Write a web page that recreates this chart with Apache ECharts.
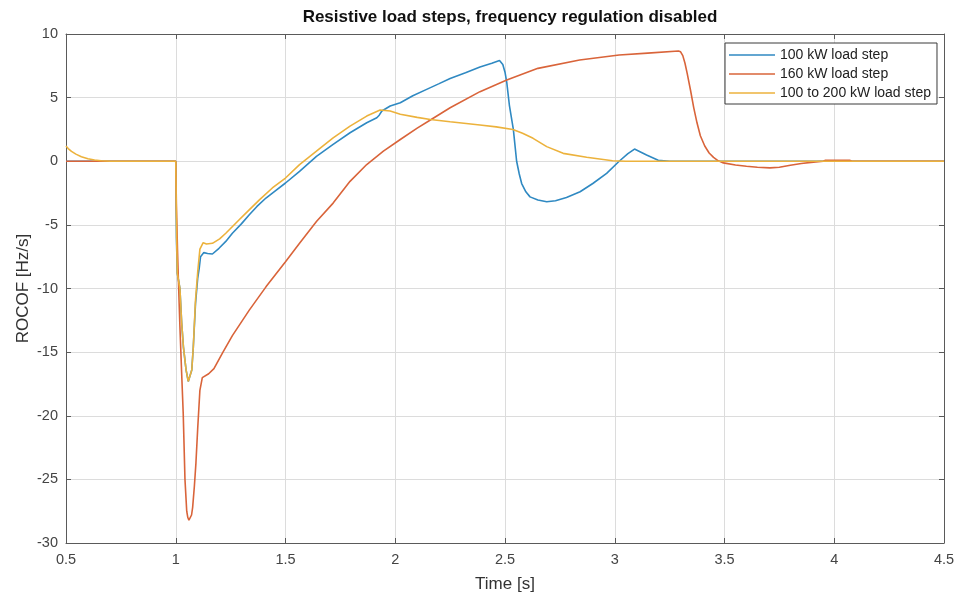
<!DOCTYPE html>
<html>
<head>
<meta charset="utf-8">
<title>ROCOF – resistive load steps</title>
<script src="https://cdn.jsdelivr.net/npm/echarts@6/dist/echarts.min.js"></script>
<style>
  html, body { margin: 0; padding: 0; background: #fff; }
  #chart { width: 965px; height: 596px; }
</style>
</head>
<body>
<div id="chart"></div>
<script>
// Axis ranges and ticks
const timeTicks = [0.5, 1, 1.5, 2, 2.5, 3, 3.5, 4, 4.5];
const rocofTicks = [-30, -25, -20, -15, -10, -5, 0, 5, 10];

const seriesNames = ['100 kW load step', '160 kW load step', '100 to 200 kW load step'];

// 100 kW load step
const time100 = [0.5, 1.0, 1.003, 1.007, 1.019, 1.027, 1.035, 1.047, 1.057, 1.063, 1.073, 1.08, 1.09, 1.1, 1.107, 1.113,
  1.128, 1.145, 1.167, 1.197, 1.228, 1.258, 1.3, 1.335, 1.37, 1.411, 1.455, 1.5, 1.564, 1.641, 1.717, 1.794, 1.87,
  1.916, 1.927, 1.939, 1.977, 2.023, 2.08, 2.143, 2.2, 2.25, 2.32, 2.386, 2.44, 2.475, 2.483, 2.49, 2.5, 2.508,
  2.52, 2.538, 2.553, 2.565, 2.576, 2.595, 2.614, 2.65, 2.69, 2.73, 2.78, 2.842, 2.9, 2.963, 3.02, 3.06, 3.09,
  3.115, 3.145, 3.198, 3.25, 4.5];
const rocof100 = [0, 0, -6, -8.8, -10, -12.7, -14.6, -16.4, -17.3, -17.4, -16.4, -14.6, -11.2, -9.2, -8.4, -7.5,
  -7.18, -7.25, -7.29, -6.84, -6.3, -5.66, -4.9, -4.21, -3.55, -2.89, -2.3, -1.71, -0.79, 0.39, 1.32, 2.24, 3.03,
  3.42, 3.62, 3.95, 4.34, 4.6, 5.15, 5.65, 6.1, 6.5, 6.95, 7.4, 7.7, 7.92, 7.95, 7.6, 7.0, 6.2,
  4.4, 2.5, 0.0, -1.0, -1.75, -2.4, -2.8, -3.05, -3.18, -3.1, -2.85, -2.4, -1.75, -0.95, 0.0, 0.6, 0.96,
  0.75, 0.49, 0.08, 0, 0];

// 160 kW load step
const time160 = [0.5, 1.0, 1.003, 1.008, 1.012, 1.019, 1.027, 1.034, 1.042, 1.05, 1.055, 1.06, 1.066, 1.072, 1.077,
  1.085, 1.092, 1.1, 1.11, 1.121, 1.15, 1.174, 1.212, 1.258, 1.335, 1.411, 1.5, 1.564, 1.641, 1.717, 1.794, 1.87,
  1.946, 2.023, 2.1, 2.16, 2.25, 2.386, 2.508, 2.65, 2.84, 3.02, 3.15, 3.29, 3.3, 3.31, 3.32, 3.33, 3.345,
  3.36, 3.375, 3.39, 3.41, 3.43, 3.45, 3.47, 3.495, 3.55, 3.6, 3.65, 3.707, 3.75, 3.8, 3.85, 3.905, 3.95, 3.96,
  4.07, 4.08, 4.5];
const rocof160 = [0, 0, -3.5, -7, -9.3, -13, -16.7, -19.8, -25, -27.5, -28.0, -28.2, -28.1, -27.8, -27.2,
  -25.5, -23.7, -21, -18, -17, -16.7, -16.3, -15.1, -13.7, -11.7, -9.87, -7.9, -6.45, -4.74, -3.29, -1.58, -0.26,
  0.79, 1.71, 2.6, 3.24, 4.2, 5.47, 6.38, 7.3, 7.96, 8.35, 8.5, 8.66, 8.6, 8.3, 7.7, 6.9, 5.6,
  4.2, 3.0, 2.0, 1.2, 0.65, 0.3, 0.05, -0.13, -0.3, -0.39, -0.47, -0.52, -0.47, -0.31, -0.18, -0.07, 0, 0.08,
  0.08, 0, 0];

// 100 to 200 kW load step
const time100to200 = [0.5, 0.51, 0.525, 0.545, 0.57, 0.6, 0.63, 0.66, 0.7, 1.0, 1.004, 1.007, 1.019, 1.027, 1.035,
  1.047, 1.057, 1.063, 1.073, 1.08, 1.09, 1.1, 1.11, 1.125, 1.14, 1.167, 1.2, 1.228, 1.289, 1.33, 1.381, 1.44,
  1.5, 1.564, 1.641, 1.717, 1.794, 1.87, 1.931, 1.977, 2.023, 2.1, 2.16, 2.25, 2.386, 2.46, 2.536, 2.58, 2.628,
  2.69, 2.765, 2.872, 2.99, 3.05, 4.5];
const rocof100to200 = [1.2, 1.0, 0.78, 0.56, 0.36, 0.2, 0.1, 0.04, 0, 0, -6, -8.8, -10, -12.7, -14.6,
  -16.4, -17.3, -17.4, -16.4, -14.6, -10.9, -8.7, -6.9, -6.4, -6.5, -6.45, -6.1, -5.66, -4.6, -3.9, -3.03, -2.1,
  -1.32, -0.26, 0.79, 1.84, 2.76, 3.55, 4.03, 3.95, 3.7, 3.45, 3.28, 3.1, 2.85, 2.7, 2.5, 2.2, 1.8,
  1.15, 0.62, 0.31, 0.04, 0, 0];

const colors = ['#2f89c2', '#d9643a', '#ecb23c'];

function pairs(ts, vs) { return ts.map((t, i) => [t, vs[i]]); }

const font = '"Liberation Sans", Arial, Helvetica, sans-serif';
const axisColor = '#5a5a5a';
const gridColor = '#dcdcdc';

const chart = echarts.init(document.getElementById('chart'), null, { renderer: 'canvas' });

const xBase = {
  type: 'value',
  min: timeTicks[0],
  max: timeTicks[timeTicks.length - 1],
  interval: timeTicks[1] - timeTicks[0],
  axisLine: { show: true, onZero: false, lineStyle: { color: axisColor, width: 1 } },
  axisTick: { show: true, inside: true, length: 5, lineStyle: { color: axisColor } }
};
const yBase = {
  type: 'value',
  min: rocofTicks[0],
  max: rocofTicks[rocofTicks.length - 1],
  interval: rocofTicks[1] - rocofTicks[0],
  axisLine: { show: true, onZero: false, lineStyle: { color: axisColor, width: 1 } },
  axisTick: { show: true, inside: true, length: 5, lineStyle: { color: axisColor } }
};

chart.setOption({
  animation: false,
  backgroundColor: '#ffffff',
  color: colors,
  title: {
    text: 'Resistive load steps, frequency regulation disabled',
    left: 505,
    top: 4,
    textAlign: 'center',
    textStyle: { fontFamily: font, fontSize: 17, fontWeight: 'bold', color: '#111' }
  },
  grid: { left: 66, right: 21, top: 34, bottom: 53, containLabel: false, outerBoundsMode: 'none' },
  legend: {
    data: seriesNames,
    orient: 'vertical',
    left: 725,
    top: 43,
    padding: [5, 6, 4, 4],
    itemWidth: 46,
    itemHeight: 14,
    itemGap: 5,
    backgroundColor: '#fff',
    borderColor: '#3a3a3a',
    borderWidth: 1,
    borderRadius: 0,
    icon: 'path://M0,0 L46,0 L46,1.6 L0,1.6 Z',
    textStyle: { fontFamily: font, fontSize: 14, color: '#222', padding: [0, 0, 0, 0] }
  },
  xAxis: [
    Object.assign({}, xBase, {
      position: 'bottom',
      name: 'Time [s]',
      nameLocation: 'middle',
      nameMoveOverlap: false,
      nameGap: 33,
      nameTextStyle: { fontFamily: font, fontSize: 17, color: '#333' },
      axisLabel: { margin: 9, fontFamily: font, fontSize: 14.5, color: '#444' },
      splitLine: { show: true, lineStyle: { color: gridColor, width: 1 } }
    }),
    Object.assign({}, xBase, {
      position: 'top',
      axisLabel: { show: false },
      splitLine: { show: false }
    })
  ],
  yAxis: [
    Object.assign({}, yBase, {
      position: 'left',
      name: 'ROCOF [Hz/s]',
      nameLocation: 'middle',
      nameMoveOverlap: false,
      nameGap: 34,
      nameTextStyle: { fontFamily: font, fontSize: 17, color: '#333' },
      axisLabel: { margin: 8, fontFamily: font, fontSize: 14.5, color: '#444' },
      splitLine: { show: true, lineStyle: { color: gridColor, width: 1 } }
    }),
    Object.assign({}, yBase, {
      position: 'right',
      axisLabel: { show: false },
      splitLine: { show: false }
    })
  ],
  series: [
    { name: seriesNames[0], data: pairs(time100, rocof100) },
    { name: seriesNames[1], data: pairs(time160, rocof160) },
    { name: seriesNames[2], data: pairs(time100to200, rocof100to200) }
  ].map((s, i) => Object.assign({
    type: 'line',
    xAxisIndex: 0,
    yAxisIndex: 0,
    symbol: 'none',
    showSymbol: false,
    smooth: false,
    z: 2 + i,
    lineStyle: { width: 1.6, color: colors[i] },
    itemStyle: { color: colors[i] }
  }, s))
});
</script>
</body>
</html>
